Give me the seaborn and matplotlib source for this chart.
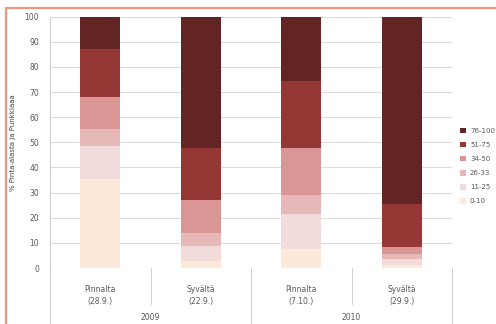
import matplotlib
matplotlib.use("Agg")
import matplotlib.pyplot as plt
import matplotlib.transforms as mtransforms
import numpy as np
import pandas as pd
import seaborn as sns

# Sampling occasions (bars) and their year groups
categories = ["Pinnalta\n(28.9.)", "Syvältä\n(22.9.)", "Pinnalta\n(7.10.)", "Syvältä\n(29.9.)"]
years = ["2009", "2010"]

# Share of each class (%) per sampling occasion, bottom class first
classes = ["0-10", "11-25", "26-33", "34-50", "51-75", "76-100"]
share_0_10 = [35.3, 2.9, 7.7, 1.0]
share_11_25 = [13.3, 5.8, 13.8, 2.5]
share_26_33 = [6.9, 5.3, 7.5, 2.0]
share_34_50 = [12.4, 13.0, 18.6, 3.0]
share_51_75 = [19.1, 20.6, 26.9, 16.8]
share_76_100 = [13.0, 52.4, 25.5, 74.7]

colors = ["#FDE9D9", "#F2DCDB", "#E6B9B8", "#D99694", "#953735", "#632523"]

y_ticks = list(range(0, 101, 10))
y_label = "% Pinta-alasta ja Punkkiaaa"

sns.set_theme(style="white")
plt.rcParams["font.family"] = ["DejaVu Sans"]

shares = [share_0_10, share_11_25, share_26_33, share_34_50, share_51_75, share_76_100]
df = pd.DataFrame({"occasion": categories})
cum = np.zeros(len(categories))
for name, vals in zip(classes, shares):
    cum = cum + np.array(vals)
    df[name] = cum

fig = plt.figure(figsize=(4.96, 3.24), dpi=100)
ax = fig.add_axes([50 / 496, (324 - 268) / 324, (452 - 50) / 496, (268 - 16.7) / 324])

# Stacked bars: draw cumulative totals from the top class down
for name, col in reversed(list(zip(classes, colors))):
    sns.barplot(data=df, x="occasion", y=name, color=col, width=0.4,
                saturation=1, ax=ax, label=name, linewidth=0)

ax.set_xlim(-0.5, 3.5)
ax.set_ylim(0, 100)
ax.set_yticks(y_ticks)
ax.set_yticklabels([str(t) for t in y_ticks], fontsize=5.5, color="#595959")
ax.yaxis.grid(True, color="#DCDCDC", linewidth=0.8)
ax.set_axisbelow(True)
for s in ax.spines.values():
    s.set_visible(False)
ax.spines["left"].set_visible(True)
ax.spines["left"].set_color("#D0D0D0")
ax.spines["left"].set_linewidth(0.8)
ax.tick_params(axis="y", length=3, width=0.8, color="#D0D0D0", pad=5)
ax.tick_params(axis="x", length=0, pad=12)
ax.set_xticks(range(len(categories)))
ax.set_xticklabels(categories, fontsize=5.5, color="#595959", linespacing=1.5)
ax.set_xlabel("")
ax.set_ylabel(y_label, fontsize=5, color="#404040", labelpad=6)

# Category and year separators below the axis
trans = mtransforms.blended_transform_factory(ax.transData, fig.transFigure)
line_kw = dict(color="#D0D0D0", linewidth=0.8, clip_on=False, transform=trans)
for x in [0.5, 2.5]:
    ax.plot([x, x], [(324 - 268) / 324, (324 - 304) / 324], **line_kw)
for x in [-0.5, 1.5, 3.5]:
    ax.plot([x, x], [(324 - 268) / 324, 0], **line_kw)
for i, yr in enumerate(years):
    ax.text(0.5 + 2 * i, (324 - 318) / 324, yr, transform=trans, ha="center",
            va="center", fontsize=5.5, color="#595959")

# Legend, top class first
handles, labels = ax.get_legend_handles_labels()
leg = ax.legend(handles, labels, loc="center left", bbox_to_anchor=(1.005, 0.405),
                frameon=False, fontsize=5, handlelength=0.8, handleheight=0.8,
                labelspacing=1.15, handletextpad=0.6, labelcolor="#595959")

# Outer frame around the chart
fig.patches.append(plt.Rectangle((6 / 496, -0.1), 1.2, (324 - 8) / 324 + 0.1,
                                 transform=fig.transFigure, fill=False,
                                 edgecolor="#F2937C", linewidth=1.6))

fig.savefig("out.png", dpi=100, facecolor="white")
